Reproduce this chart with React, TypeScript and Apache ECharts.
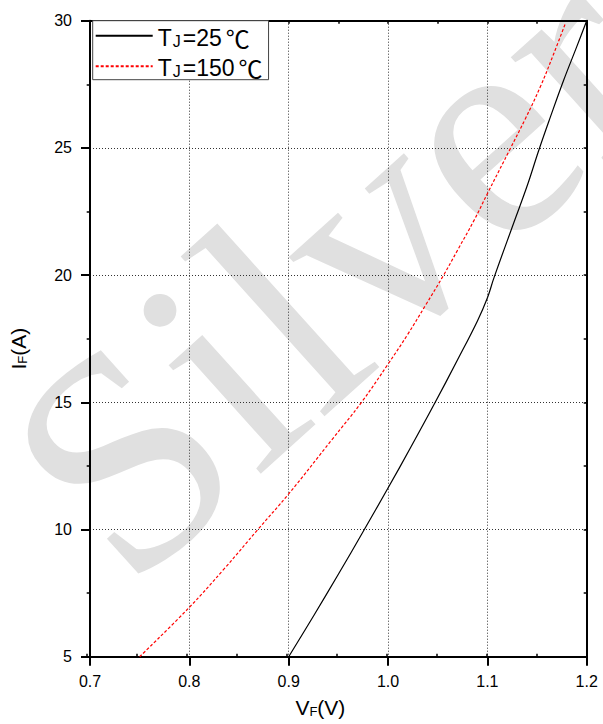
import React, { useEffect, useRef } from "react";
import * as echarts from "echarts";

// Forward characteristics
const seriesNames = ["TJ=25℃", "TJ=150℃"];
const vf25 = [0.9, 0.925, 0.95, 0.975, 1.0, 1.0233, 1.0467, 1.07, 1.09, 1.1, 1.1067, 1.1267, 1.14, 1.1517, 1.1633, 1.1767, 1.19, 1.2];
const if25 = [5, 6.6, 8.24, 9.92, 11.63, 13.26, 14.94, 16.67, 18.2, 19.1, 19.9, 22.07, 23.5, 24.9, 26.2, 27.65, 28.98, 30];
const vf150 = [0.75, 0.8, 0.835, 0.869, 0.9, 0.9433, 0.9733, 1.0, 1.02, 1.038, 1.056, 1.07, 1.0867, 1.1, 1.1233, 1.1383, 1.1533, 1.1667, 1.1783];
const if150 = [5, 6.94, 8.45, 10, 11.4, 13.52, 15.0, 16.5, 17.68, 18.83, 20.0, 20.98, 22.16, 23.2, 24.99, 26.15, 27.4, 28.69, 29.87];
const xTicks = [0.7, 0.8, 0.9, 1.0, 1.1, 1.2];
const yTicks = [5, 10, 15, 20, 25, 30];
const watermark = "Silver";

const FONT = "'Liberation Sans', Arial, sans-serif";
const CJK = "'Noto Sans CJK SC', 'Noto Sans CJK JP', sans-serif";

export default function App() {
  const ref = useRef<HTMLDivElement>(null);
  useEffect(() => {
    if (!ref.current) return;
    const chart = echarts.init(ref.current, null, { renderer: "svg" });
    const gridPos = { left: 86.7, right: 16.3, top: 20.7, bottom: 67.3 };
    const xMin = xTicks[0], xMax = xTicks[xTicks.length - 1];
    const yMin = yTicks[0], yMax = yTicks[yTicks.length - 1];
    const xInt = xTicks[1] - xTicks[0];
    const yInt = yTicks[1] - yTicks[0];
    const nameRich = {
      b: { fontSize: 21, fontFamily: FONT, color: "#000", verticalAlign: "bottom", lineHeight: 24 },
      s: { fontSize: 13, fontFamily: FONT, color: "#000", verticalAlign: "bottom", lineHeight: 19 },
    };
    const legendRich = {
      t: { fontSize: 23, fontFamily: FONT, color: "#000", verticalAlign: "bottom", lineHeight: 26, padding: [0, 1, 0, 0] },
      s: { fontSize: 16, fontFamily: FONT, color: "#000", verticalAlign: "bottom", lineHeight: 21, padding: [0, 2, 0, 0] },
      c: { fontSize: 24, fontFamily: CJK, color: "#000", verticalAlign: "bottom", lineHeight: 27, padding: [0, 0, 0, 3] },
    };
    const option: any = {
      animation: false,
      backgroundColor: "#fff",
      graphic: {
        elements: [
          {
            type: "text",
            z: -10,
            x: 333,
            y: 268,
            rotation: 0.733,
            silent: true,
            style: {
              text: watermark,
              font: "310px 'Liberation Serif', serif",
              fill: "#e0e0e0",
              textAlign: "center",
              textVerticalAlign: "middle",
            },
          },
        ],
      },
      grid: [
        { ...gridPos, show: false },
        { ...gridPos, show: false },
      ],
      legend: {
        left: 92.7,
        top: 20.7,
        orient: "vertical",
        itemWidth: 57,
        itemHeight: 14,
        itemGap: 6.5,
        padding: [4.5, 6, 0, 2],
        borderColor: "#444",
        borderWidth: 1,
        backgroundColor: "#fff",
        data: seriesNames,
        itemStyle: { opacity: 0 },
        formatter: (name: string) => {
          const rest = name.slice(2);
          return "{t|T}{s|J}{t|" + rest.slice(0, -1) + "}{c|" + rest.slice(-1) + "}";
        },
        textStyle: { rich: legendRich },
      },
      xAxis: [
        {
          type: "value",
          gridIndex: 0,
          position: "bottom",
          min: xMin,
          max: xMax,
          interval: xInt,
          axisLine: { show: true, onZero: false, lineStyle: { color: "#000", width: 2 } },
          axisTick: { show: true, inside: false, length: 9, lineStyle: { color: "#000", width: 2 } },
          axisLabel: {
            margin: 17,
            fontSize: 16,
            fontFamily: FONT,
            color: "#000",
            formatter: (v: number) => v.toFixed(1),
          },
          splitLine: { show: true, lineStyle: { color: "#333", width: 1, type: [1, 2] } },
          name: "{b|V}{s|F}{b|(V)}",
          nameLocation: "middle",
          nameGap: 37,
          nameTextStyle: { rich: nameRich, padding: [0, 36, 0, 0] },
        },
        {
          type: "value",
          gridIndex: 0,
          position: "top",
          min: xMin,
          max: xMax,
          interval: xInt / 2,
          axisLine: { show: true, onZero: false, lineStyle: { color: "#000", width: 2 } },
          axisTick: { show: true, inside: true, length: 3, lineStyle: { color: "#000", width: 1.5 } },
          axisLabel: { show: false },
          splitLine: { show: false },
        },
        {
          type: "value",
          gridIndex: 1,
          position: "bottom",
          min: xMin,
          max: xMax,
          interval: xInt / 2,
          axisLine: { show: false, onZero: false },
          axisTick: { show: true, inside: true, length: 3, lineStyle: { color: "#000", width: 1.5 } },
          axisLabel: { show: false },
          splitLine: { show: false },
        },
      ],
      yAxis: [
        {
          type: "value",
          gridIndex: 0,
          position: "left",
          min: yMin,
          max: yMax,
          interval: yInt,
          axisLine: { show: true, onZero: false, lineStyle: { color: "#000", width: 2 } },
          axisTick: { show: true, inside: false, length: 9, lineStyle: { color: "#000", width: 2 } },
          axisLabel: { margin: 18, fontSize: 16, fontFamily: FONT, color: "#000" },
          splitLine: { show: true, lineStyle: { color: "#333", width: 1, type: [1, 2] } },
          name: "{b|I}{s|F}{b|(A)}",
          nameLocation: "middle",
          nameGap: 61,
          nameTextStyle: { rich: nameRich, padding: [0, 20, 0, 0] },
        },
        {
          type: "value",
          gridIndex: 0,
          position: "right",
          min: yMin,
          max: yMax,
          interval: yInt / 2,
          axisLine: { show: true, onZero: false, lineStyle: { color: "#000", width: 2 } },
          axisTick: { show: true, inside: true, length: 3, lineStyle: { color: "#000", width: 1.5 } },
          axisLabel: { show: false },
          splitLine: { show: false },
        },
        {
          type: "value",
          gridIndex: 1,
          position: "left",
          min: yMin,
          max: yMax,
          interval: yInt / 2,
          axisLine: { show: false, onZero: false },
          axisTick: { show: true, inside: true, length: 3, lineStyle: { color: "#000", width: 1.5 } },
          axisLabel: { show: false },
          splitLine: { show: false },
        },
      ],
      series: [
        {
          name: seriesNames[0],
          type: "line",
          xAxisIndex: 0,
          yAxisIndex: 0,
          data: vf25.map((v, i) => [v, if25[i]]),
          showSymbol: false,
          symbol: "none",
          smooth: 0.4,
          lineStyle: { color: "#000", width: 1.2, type: "solid" },
          itemStyle: { color: "#000" },
          z: 5,
        },
        {
          name: seriesNames[1],
          type: "line",
          xAxisIndex: 0,
          yAxisIndex: 0,
          data: vf150.map((v, i) => [v, if150[i]]),
          showSymbol: false,
          symbol: "none",
          smooth: 0.4,
          lineStyle: { color: "#ff0000", width: 1.2, type: [3, 2] },
          itemStyle: { color: "#ff0000" },
          z: 5,
        },
      ],
    };
    chart.setOption(option);
    return () => chart.dispose();
  }, []);
  return (
    <div
      ref={ref}
      style={{ position: "absolute", left: 0, top: 0, width: 603, height: 724 }}
    />
  );
}
